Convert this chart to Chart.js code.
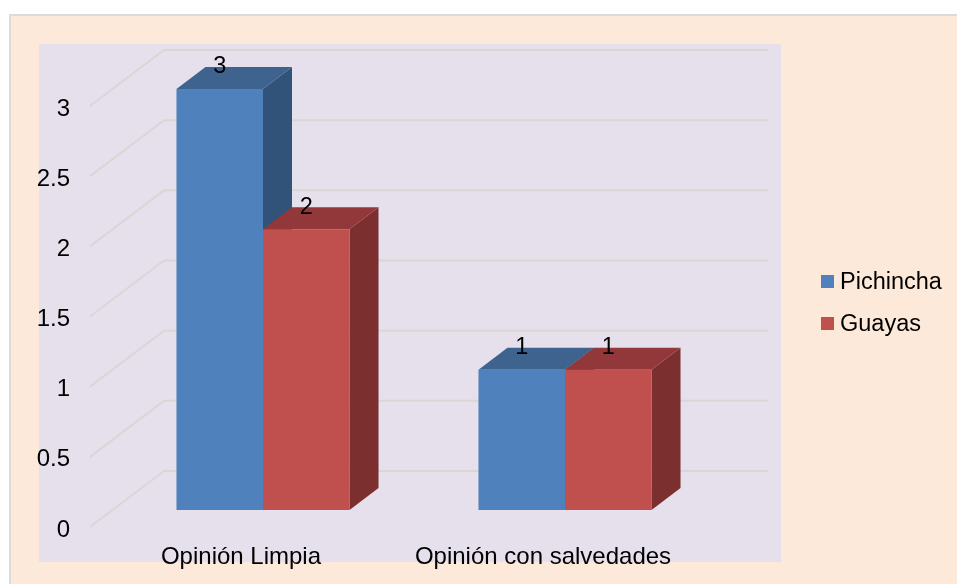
<!DOCTYPE html>
<html>
<head>
<meta charset="utf-8">
<title>Opinión</title>
<script src="https://cdn.jsdelivr.net/npm/chart.js@4"></script>
<style>
  html, body { margin: 0; padding: 0; background: #fff; width: 957px; height: 584px; overflow: hidden; }
  #frame { position: absolute; left: 9px; top: 14px; width: 960px; height: 580px; background: #FDE9D9; border: 2px solid #DDDBD9; }
  #plot { position: absolute; left: 39px; top: 44px; width: 742px; height: 518px; background: #E5E0EC; }
  #priceChart { position: absolute; left: 0; top: 0; }
</style>
</head>
<body>
<div id="frame"></div>
<div id="plot"></div>
<canvas id="priceChart" width="957" height="584"></canvas>
<script>
const categories = ['Opinión Limpia', 'Opinión con salvedades'];
const pichincha = [3, 1];
const guayas = [2, 1];
const seriesNames = ['Pichincha', 'Guayas'];

const FONT = '23.5px "Liberation Sans", Arial, sans-serif';
const AXIS_FONT = { family: '"Liberation Sans", Arial, sans-serif', size: 24 };
const frontColors = ['#4F81BD', '#C0504D'];
const topColors = ['#3E638F', '#93383A'];
const sideColors = ['#325379', '#7B302F'];

// fake 3D: floor depth of the walls, shift of the bars into the floor, depth of a bar
// tickDrop: the scale sits 3px low so the tick labels land on the reference, the marks take it back
const tickDrop = 3;
const wall = { dx: 74, dy: -56 };
const shift = { dx: 22, dy: -17 - tickDrop };
const depth = { dx: 29, dy: -22 };

function poly(ctx, pts, color) {
    ctx.fillStyle = color;
    ctx.beginPath();
    pts.forEach((p, i) => i ? ctx.lineTo(p[0], p[1]) : ctx.moveTo(p[0], p[1]));
    ctx.closePath();
    ctx.fill();
}

const walls3d = {
    id: 'walls3d',
    beforeDatasetsDraw(chart) {
        const ctx = chart.ctx;
        const y = chart.scales.y;
        const a = chart.chartArea;
        ctx.save();
        ctx.strokeStyle = '#D9D7D6';
        ctx.lineWidth = 2;
        y.ticks.forEach(t => {
            const py = y.getPixelForValue(t.value) - tickDrop;
            ctx.beginPath();
            ctx.moveTo(a.left, py);
            ctx.lineTo(a.left + wall.dx, py + wall.dy);
            ctx.lineTo(a.right + wall.dx, py + wall.dy);
            ctx.stroke();
        });
        ctx.restore();
    }
};

const bars3d = {
    id: 'bars3d',
    beforeDatasetsDraw(chart) {
        const ctx = chart.ctx;
        ctx.save();
        ctx.translate(shift.dx, shift.dy);
        // draw per category, left series first, so the red top covers the blue side
        categories.forEach((c, i) => {
            chart.data.datasets.forEach((ds, d) => {
                const b = chart.getDatasetMeta(d).data[i];
                const l = b.x - b.width / 2, r = b.x + b.width / 2;
                poly(ctx, [[r, b.y], [r + depth.dx, b.y + depth.dy], [r + depth.dx, b.base + depth.dy], [r, b.base]], sideColors[d]);
                poly(ctx, [[l, b.y], [l + depth.dx, b.y + depth.dy], [r + depth.dx, b.y + depth.dy], [r, b.y]], topColors[d]);
            });
        });
    },
    afterDatasetsDraw(chart) {
        const ctx = chart.ctx;
        ctx.restore();
        ctx.save();
        ctx.font = FONT;
        ctx.fillStyle = '#000';
        ctx.textAlign = 'center';
        ctx.textBaseline = 'middle';
        chart.data.datasets.forEach((ds, d) => {
            chart.getDatasetMeta(d).data.forEach((b, i) => {
                ctx.fillText(String(ds.data[i]), b.x + shift.dx, b.y + shift.dy - 22);
            });
        });
        ctx.restore();
    }
};

const sideLegend = {
    id: 'sideLegend',
    afterDraw(chart) {
        const ctx = chart.ctx;
        ctx.save();
        ctx.font = FONT;
        ctx.textBaseline = 'middle';
        chart.data.datasets.forEach((ds, d) => {
            const cy = 281.5 + d * 42;
            ctx.fillStyle = frontColors[d];
            ctx.fillRect(821, cy - 6.5, 13, 13);
            ctx.fillStyle = '#000';
            ctx.fillText(ds.label, 840, cy + 1);
        });
        ctx.restore();
    }
};

const ctx = document.getElementById('priceChart').getContext('2d');
new Chart(ctx, {
    type: 'bar',
    data: {
        labels: categories,
        datasets: [
            { label: seriesNames[0], data: pichincha, backgroundColor: frontColors[0], borderWidth: 0 },
            { label: seriesNames[1], data: guayas, backgroundColor: frontColors[1], borderWidth: 0 }
        ]
    },
    options: {
        responsive: false,
        animation: false,
        datasets: { bar: { categoryPercentage: 0.573, barPercentage: 1, clip: false } },
        layout: { padding: { top: 106 + tickDrop, right: 263, bottom: 0, left: 0 } },
        plugins: { legend: { display: false }, tooltip: { enabled: false }, title: { display: false } },
        scales: {
            x: {
                grid: { display: false, drawTicks: false },
                border: { display: false },
                afterFit: s => { s.height = 57 - tickDrop; },
                ticks: { color: '#000', font: AXIS_FONT, padding: 13, maxRotation: 0, autoSkip: false }
            },
            y: {
                min: 0,
                max: 3,
                grid: { display: false, drawTicks: false },
                border: { display: false },
                afterFit: s => { s.width = 90; },
                ticks: { stepSize: 0.5, color: '#000', font: AXIS_FONT, padding: 20, callback: v => String(v) }
            }
        }
    },
    plugins: [walls3d, bars3d, sideLegend]
});
</script>
</body>
</html>
